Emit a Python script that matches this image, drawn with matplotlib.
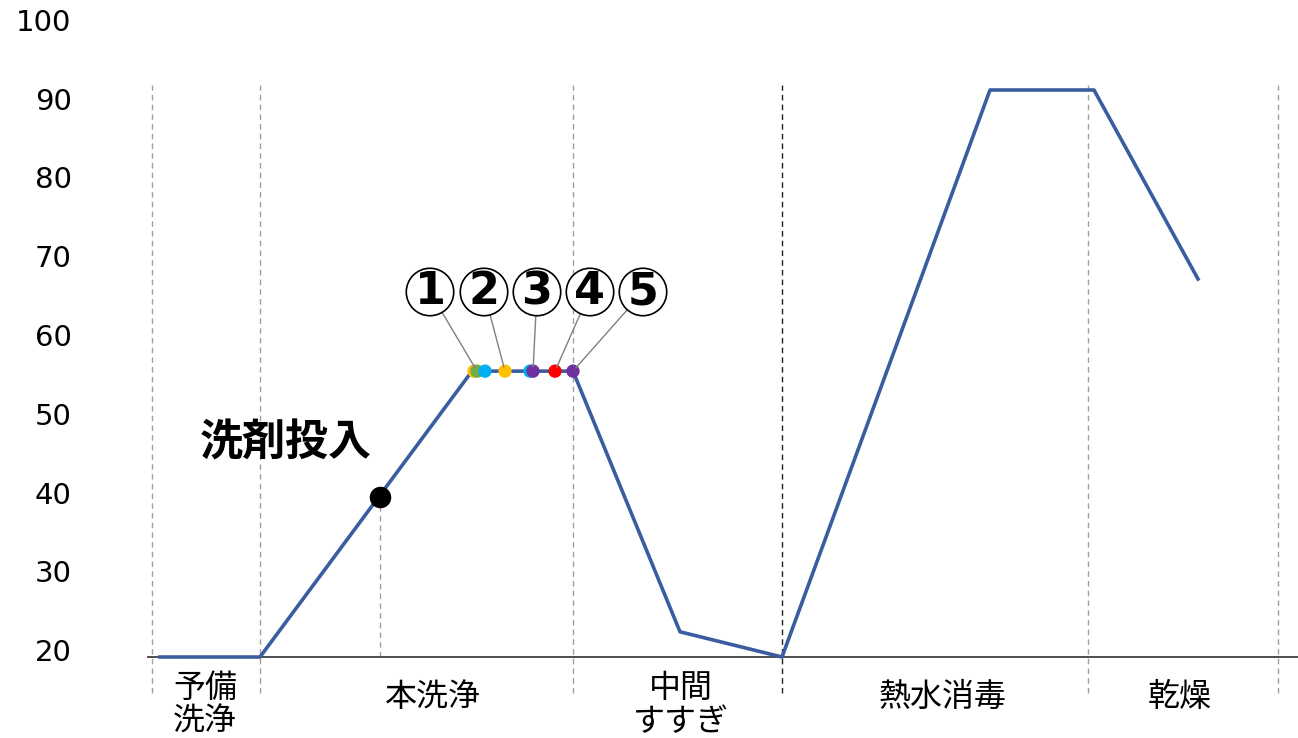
import matplotlib
matplotlib.use("Agg")
import matplotlib.pyplot as plt
from matplotlib.transforms import ScaledTranslation

plt.rcParams['font.family'] = ['Noto Sans CJK JP', 'DejaVu Sans']

# temperature profile of one wash cycle
time = [1.2, 11.2, 32.4, 42.5, 53.2, 63.4, 84.2, 94.6, 105.0]
temp = [20, 20, 56.3, 56.3, 23.2, 20, 92, 92, 68]

# phase boundaries and names
bounds = [0.4, 11.2, 42.5, 63.4, 94.0, 113.0]
phases = ["予備\n洗浄", "本洗浄", "中間\nすすぎ", "熱水消毒", "乾燥"]
phase_x = [5.7, 28.5, 53.3, 79.5, 103.2]

# detergent dosing point
dose_t, dose_v = 23.2, 40.3

# sample points on the main wash plateau
pt_t = [32.6, 32.9, 33.7, 35.7, 38.2, 38.5, 40.7, 42.5]
pt_c = ['#FFC000', '#70AD47', '#00B0F0', '#FFC000', '#00B0F0', '#7030A0', '#FF0000', '#7030A0']
plateau = 56.3

# numbered callouts: label position -> point
call_no = ["1", "2", "3", "4", "5"]
call_x = [28.2, 33.6, 38.9, 44.2, 49.5]
call_to = [32.9, 35.7, 38.5, 40.7, 42.5]
call_y = 66.35

fig = plt.figure(figsize=(12.98, 7.38), dpi=100)
ax = fig.add_axes([148 / 1298, 81 / 738, 1150 / 1298, 630 / 738])
ax.set_xlim(0, 115)
ax.set_ylim(20, 100)

for s in ['top', 'right', 'left']:
    ax.spines[s].set_visible(False)
ax.spines['bottom'].set_color('#404040')
ax.spines['bottom'].set_linewidth(1.3)
ax.set_xticks([])
ax.set_yticks(range(20, 101, 10))
ax.tick_params(axis='y', length=0, pad=55, labelsize=21)
off = ScaledTranslation(0, 7 / 100, fig.dpi_scale_trans)
for lab in ax.get_yticklabels():
    lab.set_family('DejaVu Sans')
    lab.set_transform(lab.get_transform() + off)

# phase separators
for i, b in enumerate(bounds):
    col = '#202020' if i == 3 else '#A0A0A0'
    ax.vlines(b, 15.4, 92.6, colors=col, linestyles=(0, (4, 3)), lw=1, clip_on=False, zorder=1)
ax.vlines(dose_t, 20, dose_v, colors='#A0A0A0', linestyles=(0, (4, 3)), lw=1, zorder=1)

ax.plot(time, temp, color='#3A5DA0', lw=2.6, zorder=3, clip_on=False)

ax.scatter([dose_t], [dose_v], s=210, color='black', zorder=5)
ax.text(13.8, 47.2, "洗剤投入", fontsize=31, fontweight='bold', ha='center', va='center')

ax.scatter(pt_t, [plateau] * len(pt_t), s=74, c=pt_c, zorder=5)

for n, x, tx in zip(call_no, call_x, call_to):
    ax.annotate(n, xy=(tx, plateau), xytext=(x, call_y),
                fontsize=32, fontweight='bold', ha='center', va='center',
                family='DejaVu Sans',
                bbox=dict(boxstyle='circle,pad=0.05', fc='white', ec='black', lw=1.2),
                arrowprops=dict(arrowstyle='-', color='#808080', lw=1, shrinkA=0, shrinkB=3),
                zorder=6)

for name, x in zip(phases, phase_x):
    y = 13.9 if "\n" in name else 14.9
    ax.text(x, y, name, fontsize=23, ha='center', va='center', linespacing=1.05)

fig.savefig("out.png", dpi=100)
